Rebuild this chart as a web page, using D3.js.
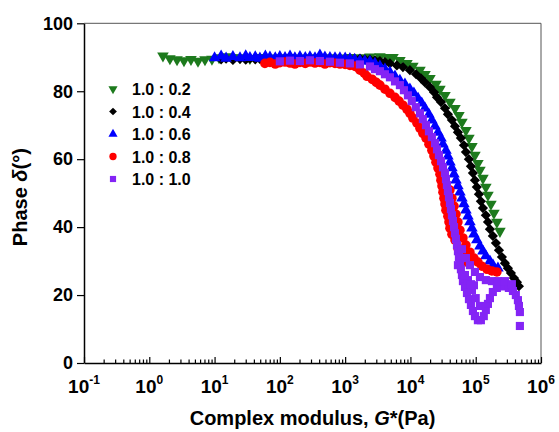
<!DOCTYPE html>
<html>
<head>
<meta charset="utf-8">
<script src="https://cdn.jsdelivr.net/npm/d3@7"></script>
<style>
  html, body { margin: 0; padding: 0; background: #fff; }
  svg { display: block; font-family: "Liberation Sans", Arial, sans-serif; }
</style>
</head>
<body>
<svg id="chart" width="559" height="432"></svg>
<script>
// ---------------- DATA ----------------
const seriesNames = ["1.0 : 0.2", "1.0 : 0.4", "1.0 : 0.6", "1.0 : 0.8", "1.0 : 1.0"];

// 1.0 : 0.2  (green, down triangles)
const g02 = [1.62,2.07,2.66,3.40,4.35,5.57,7.13,9.12,11.7,15.0,19.1,24.5,34.8,49.5,70.5,100,143,203,289,411,585,832,1185,1687,2400,3410,4370,5400,6900,8840,10900,14000,16700,19900,24600,28300,33800,40300,48100,55300,61500,70800,78700,87500,97300,108000,116000,129000,143000,154000,171000,190000,211000,235000];
const d02 = [90.4,89.6,89.3,89.0,89.4,88.9,89.3,89.5,89.9,90.2,89.8,89.9,89.7,90.0,89.8,89.9,90.0,89.8,89.9,90.0,89.9,89.8,90.0,89.9,90.1,90.2,90.0,90.0,89.1,88.2,87.4,86.2,85.0,83.8,82.1,80.6,78.8,76.8,75.0,72.9,70.9,68.5,66.2,63.8,61.2,58.8,56.8,54.4,51.8,49.4,46.8,44.1,41.5,38.8];

// 1.0 : 0.4  (black, diamonds)
const g04 = [12.6,15.0,19.1,24.5,30,34.8,42,49.5,60,70.5,85,100,120,143,170,203,245,289,345,411,490,585,700,832,1000,1185,1400,1687,2000,2400,2860,3410,4070,4850,6200,7680,9820,12200,14500,16700,19900,23000,25500,29400,33800,37500,43200,48100,53400,59300,66000,70800,78700,84400,90600,97300,104000,112000,120000,129000,143000,154000,165000,183000,204000,227000,252000,280000,311000,346000,385000,428000,459000];
const d04 = [89.4,89.6,89.2,89.5,89.3,89.6,89.4,89.5,89.3,89.6,89.5,89.4,89.6,89.5,89.5,89.6,89.4,89.6,89.5,89.6,89.5,89.6,89.5,89.6,89.5,89.6,89.5,89.6,89.4,89.3,89.1,88.9,88.6,88.2,87.6,87.1,86.2,85.0,83.8,82.6,81.2,79.7,78.2,76.8,75.0,73.2,71.5,69.7,67.9,66.2,64.1,62.1,60.0,57.9,55.9,53.8,51.8,49.7,47.6,45.6,43.5,41.5,39.4,37.4,35.3,33.2,31.2,29.4,27.9,26.5,25.0,23.8,22.6];

// 1.0 : 0.6  (blue, up triangles)
const g06 = [10,12.6,15,19.1,24.5,30,34.8,42,49.5,60,70.5,85,100,120,143,170,203,245,289,345,411,490,585,700,832,1000,1185,1400,1687,2000,2400,2860,3410,4070,4850,5800,6900,8240,9820,11300,13100,14900,16700,19200,21300,23800,26400,29400,31500,35000,37500,40300,43200,46500,49800,53400,57300,61500,66000,70800,76000,81500,87500,93900,104000,116000,129000,143000,165000,184000,219000];
const d06 = [89.8,90.3,89.7,90.2,89.8,90.4,89.9,90.1,89.7,90.3,90.0,89.8,90.2,89.9,90.3,89.8,90.2,89.9,90.1,89.8,90.6,90.0,89.9,89.8,89.8,89.7,89.6,89.4,89.1,88.9,88.8,88.2,87.4,86.5,85.6,84.4,83.2,82.1,80.6,79.4,77.9,76.5,75.0,73.2,71.5,69.7,67.9,66.2,64.4,62.6,60.9,59.1,57.4,55.6,53.8,52.1,50.3,48.5,46.8,45.0,43.2,41.5,39.7,37.9,36.2,34.4,32.9,31.5,30.0,28.8,27.9];

// 1.0 : 0.8  (red, circles)
const g08 = [59,70.5,85,100,120,143,170,203,245,289,345,411,490,585,700,832,1000,1185,1400,1517,1687,1960,2160,2600,3000,3410,4070,4850,5800,6700,7680,8840,9820,10900,12600,14000,15500,17300,19200,21300,22900,24600,26400,28300,29300,30400,31500,32600,33800,35000,37500,38900,40300,43200,48100,53400,61500,73400,40300,43200,46500,49800,53400,57300,63700,70800,81500,93900,108000,124000,149000,177000,211000];
const d08 = [88.2,88.5,88.0,88.4,88.6,88.3,88.0,88.5,88.2,88.6,88.3,88.5,88.0,88.4,88.2,88.0,87.9,87.6,87.4,87.1,86.2,85.3,84.4,83.5,82.6,81.8,80.6,79.4,78.2,77.1,75.9,74.7,73.5,72.1,70.6,69.1,67.6,66.2,64.4,62.6,60.9,59.1,57.4,55.6,53.8,52.1,50.3,48.5,46.8,45.0,43.2,41.5,39.7,37.9,36.2,33.8,31.8,29.7,50.9,48.5,46.2,43.8,41.5,39.1,36.8,34.7,32.6,30.9,29.7,28.5,27.6,27.1,26.8];

// 1.0 : 1.0  (purple, squares)
const g10 = [100,143,203,289,411,585,832,1185,1687,2400,2860,3410,4070,4850,5800,6900,7950,9150,10500,12100,14000,15500,17300,19200,21300,23800,25500,27300,29400,31500,33800,35000,36200,37500,38900,40300,41700,43200,44800,46500,48100,49800,51600,53400,55300,57300,59300,61500,63700,68400,73400,78700,84400,90600,97300,108000,120000,133000,143000,154000,165000,183000,211000,243000,280000,322000,372000,412000,443000,459000,475000,475000,61500,70800,81500,97300,116000,143000,177000,219000,76000,87500,100000,116000,93900,53400,68400,84400,280000,358000];
const d10 = [88.8,89.0,88.9,89.1,88.9,88.7,88.4,88.2,87.9,87.3,86.5,85.9,85.0,84.1,82.9,81.8,80.3,78.8,77.1,75.3,73.5,71.8,70.0,68.2,66.5,64.7,62.9,61.2,59.4,57.6,55.9,54.1,52.4,50.6,48.8,47.1,45.3,43.5,41.8,40.0,38.2,36.5,34.7,32.9,31.2,29.4,27.6,25.9,24.1,22.4,20.6,18.8,17.1,15.3,13.8,12.6,12.6,13.8,15.6,17.4,19.1,20.9,22.1,22.6,22.6,22.1,21.2,20.0,18.5,16.8,15.0,10.9,33.5,30.9,28.8,26.8,25.3,24.4,24.1,24.1,24.4,21.5,19.1,16.8,22.9,28.8,25.9,23.2,24.1,23.2];

const xMajor = [0.1, 1, 10, 100, 1000, 1e4, 1e5, 1e6];
const xExp = ["-1", "0", "1", "2", "3", "4", "5", "6"];
const yTicks = [0, 20, 40, 60, 80, 100];

// ---------------- CHART ----------------
const svg = d3.select("#chart");
const L = 84, R = 541, T = 23.3, B = 363;
const x = d3.scaleLog().domain([0.1, 1e6]).range([L, R]);
const y = d3.scaleLinear().domain([0, 100]).range([B, T]);

const series = [
  {name: seriesNames[0], g: g02, d: d02, color: "#1d7a1d", type: d3.symbolTriangle, size: 58, rot: 180, lsize: 36},
  {name: seriesNames[1], g: g04, d: d04, color: "#000000", type: d3.symbolSquare, size: 52, rot: 45, lsize: 30},
  {name: seriesNames[2], g: g06, d: d06, color: "#0000ff", type: d3.symbolTriangle, size: 58, rot: 0, lsize: 36},
  {name: seriesNames[3], g: g08, d: d08, color: "#ff0000", type: d3.symbolCircle, size: 72, rot: 0, lsize: 42},
  {name: seriesNames[4], g: g10, d: d10, color: "#8424f5", type: d3.symbolSquare, size: 66, rot: 0, lsize: 38}
];

// frame (top/right)
svg.append("line").attr("x1", L).attr("x2", R).attr("y1", T).attr("y2", T)
  .attr("stroke", "#555").attr("stroke-width", 1);
svg.append("line").attr("x1", R).attr("x2", R).attr("y1", T).attr("y2", B)
  .attr("stroke", "#555").attr("stroke-width", 1);

// points
const plot = svg.append("g");
series.forEach(s => {
  const pts = d3.zip(s.g, s.d);
  const sym = d3.symbol().type(s.type).size(s.size);
  plot.append("g").selectAll("path").data(pts).join("path")
    .attr("d", sym)
    .attr("transform", p => `translate(${x(p[0])},${y(p[1])}) rotate(${s.rot})`)
    .attr("fill", s.color);
});

// x axis
const minors = [];
for (let e = -1; e < 6; e++) for (let m = 2; m <= 9; m++) minors.push(m * Math.pow(10, e));
const xa = svg.append("g").attr("transform", `translate(0,${B})`);
xa.call(d3.axisBottom(x).tickValues(xMajor).tickSizeInner(-6).tickSizeOuter(0).tickFormat(""));
xa.append("g").call(d3.axisBottom(x).tickValues(minors).tickSizeInner(-3.5).tickSizeOuter(0).tickFormat(""))
  .select(".domain").remove();
xa.selectAll(".domain").attr("stroke", "#000").attr("stroke-width", 1.5);
xa.selectAll(".tick line").attr("stroke", "#000").attr("stroke-width", 1.2);

const xl = svg.append("g").attr("font-weight", "bold").attr("fill", "#000");
xMajor.forEach((v, i) => {
  const t = xl.append("text").attr("x", x(v)).attr("y", B + 30)
    .attr("text-anchor", "middle").attr("font-size", 19);
  t.append("tspan").text("10");
  t.append("tspan").attr("font-size", 12).attr("dy", -9).text(xExp[i]);
});

// y axis
const ya = svg.append("g").attr("transform", `translate(${L},0)`);
ya.call(d3.axisLeft(y).tickValues(yTicks).tickSizeInner(7).tickSizeOuter(0).tickPadding(4).tickFormat(d3.format("d")));
ya.selectAll(".domain").attr("stroke", "#000").attr("stroke-width", 1.5);
ya.selectAll(".tick line").attr("stroke", "#000").attr("stroke-width", 1.2);
ya.selectAll(".tick text").attr("font-size", 18).attr("font-weight", "bold")
  .attr("fill", "#000").attr("font-family", "Liberation Sans, Arial, sans-serif");

// axis titles
const xt = svg.append("text").attr("x", (L + R) / 2).attr("y", 425)
  .attr("text-anchor", "middle").attr("font-size", 20).attr("font-weight", "bold");
xt.append("tspan").text("Complex modulus, ");
xt.append("tspan").attr("font-style", "italic").text("G");
xt.append("tspan").text("*(Pa)");

const yt = svg.append("text").attr("transform", `translate(27,${(T + B) / 2 + 4}) rotate(-90)`)
  .attr("text-anchor", "middle").attr("font-size", 20).attr("font-weight", "bold");
yt.append("tspan").text("Phase ");
yt.append("tspan").attr("font-style", "italic").text("δ");
yt.append("tspan").text("(°)");

// legend
const leg = svg.append("g");
const legY = [89, 111.5, 134, 156.5, 179];
series.forEach((s, i) => {
  leg.append("path").attr("d", d3.symbol().type(s.type).size(s.lsize))
    .attr("transform", `translate(113,${legY[i]}) rotate(${s.rot})`)
    .attr("fill", s.color);
  leg.append("text").attr("x", 132).attr("y", legY[i] + 6)
    .attr("font-size", 16).attr("font-weight", "bold").text(s.name);
});
</script>
</body>
</html>
